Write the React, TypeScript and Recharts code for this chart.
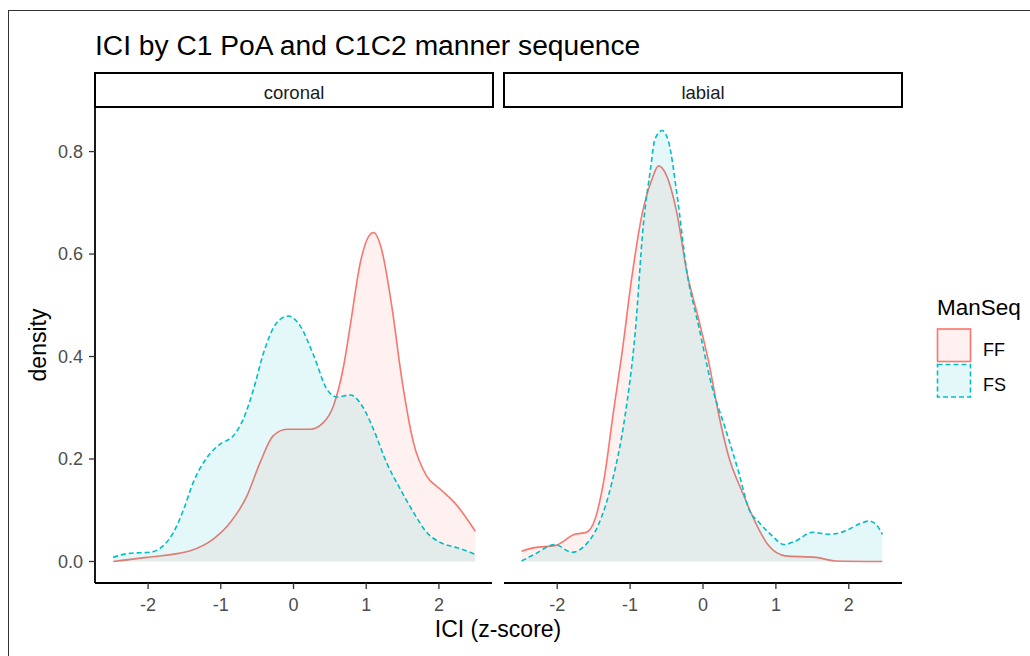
import { Area, AreaChart, XAxis, YAxis } from 'recharts'

// density curves, [ICI z-score, density]
const coronalFF: [number, number][] = [
  [-2.48, 0], [-2.02, 0.008], [-1.42, 0.021], [-1.1, 0.044], [-0.87, 0.076],
  [-0.64, 0.128], [-0.46, 0.193], [-0.28, 0.245], [-0.09, 0.258], [0.23, 0.258],
  [0.41, 0.271], [0.55, 0.304], [0.69, 0.382], [0.78, 0.46], [0.92, 0.584],
  [1.04, 0.636], [1.1, 0.642], [1.21, 0.61], [1.35, 0.5], [1.49, 0.356],
  [1.65, 0.232], [1.83, 0.167], [2.02, 0.141], [2.25, 0.109], [2.5, 0.059],
]

const coronalFS: [number, number][] = [
  [-2.48, 0.008], [-2.25, 0.016], [-1.97, 0.018], [-1.79, 0.031], [-1.65, 0.057],
  [-1.51, 0.102], [-1.38, 0.154], [-1.19, 0.203], [-1.01, 0.229], [-0.83, 0.245],
  [-0.69, 0.278], [-0.55, 0.336], [-0.41, 0.408], [-0.23, 0.466], [-0.07, 0.479],
  [0.09, 0.46], [0.28, 0.401], [0.46, 0.336], [0.6, 0.321], [0.78, 0.325],
  [0.96, 0.3], [1.1, 0.258], [1.28, 0.193], [1.47, 0.141], [1.65, 0.096],
  [1.83, 0.057], [2.02, 0.037], [2.25, 0.027], [2.5, 0.014],
]

const labialFF: [number, number][] = [
  [-2.49, 0.02], [-2.31, 0.027], [-2.03, 0.031], [-1.76, 0.053], [-1.6, 0.057],
  [-1.48, 0.083], [-1.35, 0.167], [-1.23, 0.291], [-1.11, 0.408], [-0.98, 0.551],
  [-0.84, 0.675], [-0.7, 0.746], [-0.61, 0.772], [-0.5, 0.753], [-0.36, 0.681],
  [-0.22, 0.564], [-0.06, 0.473], [0.08, 0.388], [0.22, 0.284], [0.35, 0.206],
  [0.54, 0.135], [0.72, 0.076], [0.9, 0.031], [1.13, 0.011], [1.55, 0.008],
  [1.82, 0.001], [2.46, 0],
]

const labialFS: [number, number][] = [
  [-2.49, 0.001], [-2.31, 0.014], [-2.03, 0.033], [-1.8, 0.018], [-1.62, 0.031],
  [-1.44, 0.07], [-1.25, 0.154], [-1.07, 0.284], [-0.93, 0.447], [-0.82, 0.655],
  [-0.72, 0.766], [-0.66, 0.824], [-0.56, 0.841], [-0.47, 0.818], [-0.36, 0.72],
  [-0.22, 0.564], [-0.06, 0.46], [0.12, 0.343], [0.31, 0.258], [0.49, 0.174],
  [0.63, 0.102], [0.77, 0.076], [0.95, 0.05], [1.11, 0.033], [1.27, 0.04],
  [1.5, 0.057], [1.73, 0.053], [1.96, 0.06], [2.14, 0.073], [2.28, 0.079],
  [2.37, 0.073], [2.46, 0.053],
]

const xTicks = [-2, -1, 0, 1, 2]
const yTicks = [0, 0.2, 0.4, 0.6, 0.8]
const facets = ['coronal', 'labial']
const groups = ['FF', 'FS']

const FF_COLOR = '#F8766D'
const FS_COLOR = '#00BFC4'
const FONT = '"Liberation Sans", Arial, sans-serif'

type Row = { x: number; FF?: number; FS?: number }

function merge(ff: [number, number][], fs: [number, number][]): Row[] {
  const rows = new Map<number, Row>()
  ff.forEach(([x, y]) => rows.set(x, { ...(rows.get(x) || { x }), FF: y }))
  fs.forEach(([x, y]) => rows.set(x, { ...(rows.get(x) || { x }), FS: y }))
  return Array.from(rows.values()).sort((a, b) => a.x - b.x)
}

const panelData = [merge(coronalFF, coronalFS), merge(labialFF, labialFS)]

function Panel({ data, showY }: { data: Row[]; showY: boolean }) {
  return (
    <AreaChart
      width={showY ? 500 : 410}
      height={533}
      data={data}
      margin={{ top: 7, right: 8, left: showY ? 0 : 4, bottom: 0 }}
    >
      <XAxis
        dataKey="x"
        type="number"
        domain={[-2.73, 2.73]}
        ticks={xTicks}
        allowDataOverflow
        height={50}
        tickSize={6}
        tickMargin={9}
        axisLine={{ stroke: '#000', strokeWidth: 1.8 }}
        tickLine={{ stroke: '#333', strokeWidth: 1.3 }}
        tick={{ fontSize: 18, fill: '#4D4D4D', fontFamily: FONT }}
      />
      <YAxis
        hide={!showY}
        type="number"
        domain={[-0.042, 0.887]}
        ticks={yTicks}
        allowDataOverflow
        width={95}
        tickSize={6}
        tickMargin={6}
        tickFormatter={(v: number) => v.toFixed(1)}
        axisLine={{ stroke: '#000', strokeWidth: 1.8 }}
        tickLine={{ stroke: '#333', strokeWidth: 1.3 }}
        tick={{ fontSize: 18, fill: '#4D4D4D', fontFamily: FONT }}
      />
      <Area
        type="monotone"
        dataKey="FF"
        stroke={FF_COLOR}
        strokeWidth={1.6}
        fill={FF_COLOR}
        fillOpacity={0.1}
        connectNulls
        dot={false}
        activeDot={false}
        isAnimationActive={false}
      />
      <Area
        type="monotone"
        dataKey="FS"
        stroke={FS_COLOR}
        strokeWidth={1.6}
        strokeDasharray="5 3"
        fill={FS_COLOR}
        fillOpacity={0.1}
        connectNulls
        dot={false}
        activeDot={false}
        isAnimationActive={false}
      />
    </AreaChart>
  )
}

export default function App() {
  const stripX = [95, 504]
  return (
    <div
      style={{
        position: 'absolute',
        left: 0,
        top: 0,
        width: 1030,
        height: 656,
        background: '#fff',
        overflow: 'hidden',
        fontFamily: FONT,
      }}
    >
      <div
        style={{
          position: 'absolute',
          left: 8,
          top: 10,
          width: 1040,
          height: 660,
          borderLeft: '1.5px solid #333',
          borderTop: '1.5px solid #333',
        }}
      />
      <div style={{ position: 'absolute', left: 0, top: 100 }}>
        <Panel data={panelData[0]} showY />
      </div>
      <div style={{ position: 'absolute', left: 500, top: 100 }}>
        <Panel data={panelData[1]} showY={false} />
      </div>
      <svg
        width={1030}
        height={656}
        style={{ position: 'absolute', left: 0, top: 0, pointerEvents: 'none' }}
        fontFamily={FONT}
      >
        <text x={95} y={55} fontSize={28.2} fill="#000">
          ICI by C1 PoA and C1C2 manner sequence
        </text>
        {facets.map((f, i) => (
          <g key={f}>
            <rect
              x={stripX[i]}
              y={73}
              width={398}
              height={34}
              fill="#fff"
              stroke="#000"
              strokeWidth={2}
            />
            <text x={stripX[i] + 199} y={99} fontSize={18.5} fill="#1A1A1A" textAnchor="middle">
              {f}
            </text>
          </g>
        ))}
        <text
          x={0}
          y={0}
          fontSize={23}
          fill="#000"
          textAnchor="middle"
          transform="translate(46,345) rotate(-90)"
        >
          density
        </text>
        <text x={498} y={637} fontSize={23} fill="#000" textAnchor="middle">
          ICI (z-score)
        </text>
        <text x={937} y={315} fontSize={22.5} fill="#000">
          ManSeq
        </text>
        {groups.map((g, i) => {
          const color = g === 'FF' ? FF_COLOR : FS_COLOR
          const y = 329 + i * 35.5
          return (
            <g key={g}>
              <rect
                x={937.5}
                y={y}
                width={33}
                height={32.5}
                fill={color}
                fillOpacity={0.1}
                stroke={color}
                strokeWidth={1.6}
                strokeDasharray={g === 'FS' ? '5 3' : undefined}
              />
              <text x={983} y={y + 26.5} fontSize={18} fill="#000">
                {g}
              </text>
            </g>
          )
        })}
      </svg>
    </div>
  )
}
